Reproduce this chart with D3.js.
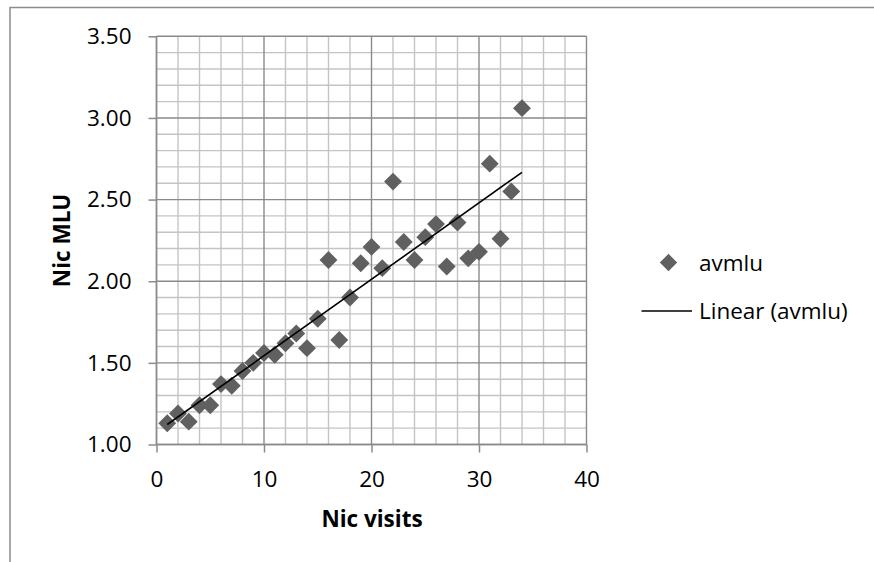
<!DOCTYPE html>
<html><head><meta charset="utf-8">
<script src="https://cdn.jsdelivr.net/npm/d3@7"></script>
<style>body{margin:0;background:#fff} svg{display:block}</style>
</head><body><svg id="c" width="874" height="562"></svg>
<script>
const visits = [1,2,3,4,5,6,7,8,9,10,11,12,13,14,15,16,17,18,19,20,21,22,23,24,25,26,27,28,29,30,31,32,33,34];
const avmlu  = [1.13,1.19,1.14,1.24,1.24,1.37,1.36,1.45,1.50,1.56,1.55,1.62,1.68,1.59,1.77,2.13,1.64,1.90,2.11,2.21,2.08,2.61,2.24,2.13,2.27,2.35,2.09,2.36,2.14,2.18,2.72,2.26,2.55,3.06];
const xTicks = [0,10,20,30,40];
const yTicks = [1.0,1.5,2.0,2.5,3.0,3.5];
const xMinor = d3.range(0, 40.001, 2);
const yMinor = d3.range(1.0, 3.5001, 0.1);
const seriesName = "avmlu";
const trendName = "Linear (avmlu)";
const xTitle = "Nic visits";
const yTitle = "Nic MLU";

const FONT = "'Open Sans', Lato, sans-serif";
const FS = "22.5px";
const svg = d3.select("#c");
const L = 156.5, R = 586.5, T = 36.3, B = 444.5;
const x = d3.scaleLinear().domain([0, 40]).range([L, R]);
const y = d3.scaleLinear().domain([1, 3.5]).range([B, T]);

// outer frame (cropped)
svg.append("path").attr("d", `M10,562 L10,7.5 L874,7.5`).attr("fill","none").attr("stroke","#8c8c8c").attr("stroke-width",1.5);

const g = svg.append("g");
// minor grid
g.selectAll(".vx").data(xMinor.filter(v => v % 10 !== 0)).join("line")
  .attr("x1", d => x(d)).attr("x2", d => x(d)).attr("y1", T).attr("y2", B)
  .attr("stroke", "#c4c4c4").attr("stroke-width", 1.4);
g.selectAll(".hy").data(yMinor.filter(v => Math.abs(v*2 - Math.round(v*2)) > 1e-6)).join("line")
  .attr("y1", d => y(d)).attr("y2", d => y(d)).attr("x1", L).attr("x2", R)
  .attr("stroke", "#c4c4c4").attr("stroke-width", 1.4);
// major grid
g.selectAll(".mx").data(xTicks).join("line")
  .attr("x1", d => x(d)).attr("x2", d => x(d)).attr("y1", T).attr("y2", B)
  .attr("stroke", "#8a8a8a").attr("stroke-width", 1.4);
g.selectAll(".my").data(yTicks).join("line")
  .attr("y1", d => y(d)).attr("y2", d => y(d)).attr("x1", L).attr("x2", R)
  .attr("stroke", "#8a8a8a").attr("stroke-width", 1.4);

// axes
const xa = svg.append("g").attr("transform", `translate(0,${B})`)
  .call(d3.axisBottom(x).tickValues(xTicks).tickSize(8).tickFormat(d3.format("d")));
const ya = svg.append("g").attr("transform", `translate(${L},0)`)
  .call(d3.axisLeft(y).tickValues(yTicks).tickSize(8).tickPadding(17).tickFormat(d3.format(".2f")));
[xa, ya].forEach(a => {
  a.select(".domain").remove();
  a.selectAll(".tick line").attr("stroke", "#8a8a8a").attr("stroke-width", 1.5);
  a.selectAll("text").attr("fill", "#000").style("font-family", FONT).style("font-size", FS);
});
xa.selectAll("text").attr("y", 42.5).attr("dy", 0);
svg.append("line").attr("x1", L).attr("x2", L).attr("y1", T).attr("y2", B).attr("stroke","#8a8a8a").attr("stroke-width",1.5);
svg.append("line").attr("x1", L).attr("x2", R).attr("y1", B).attr("y2", B).attr("stroke","#8a8a8a").attr("stroke-width",1.5);

// points
const diamond = d3.symbol(d3.symbolSquare, 160)();
const data = visits.map((v, i) => ({x: v, y: avmlu[i]}));
svg.append("g").selectAll("path").data(data).join("path")
  .attr("d", diamond)
  .attr("transform", d => `translate(${x(d.x)},${y(d.y)}) rotate(45)`)
  .attr("fill", "#606060");

// linear trendline (least squares)
const mx = d3.mean(visits), my = d3.mean(avmlu);
const slope = d3.sum(data, d => (d.x - mx) * (d.y - my)) / d3.sum(data, d => (d.x - mx) ** 2);
const icpt = my - slope * mx;
const ext = d3.extent(visits);
svg.append("path")
  .datum(ext.map(v => ({x: v, y: icpt + slope * v})))
  .attr("d", d3.line().x(d => x(d.x)).y(d => y(d.y)))
  .attr("fill", "none").attr("stroke", "#000").attr("stroke-width", 1.6);

// titles
svg.append("text").attr("x", 372).attr("y", 527).attr("text-anchor", "middle")
  .style("font-family", FONT).style("font-size", FS).style("font-weight", "bold").text(xTitle);
svg.append("text").attr("transform", `translate(70,${(T + B) / 2}) rotate(-90)`).attr("text-anchor", "middle")
  .style("font-family", FONT).style("font-size", FS).style("font-weight", "bold").text(yTitle);

// legend
const lg = svg.append("g");
lg.append("path").attr("d", d3.symbol(d3.symbolSquare, 150)()).attr("transform", "translate(668.5,262.5) rotate(45)").attr("fill", "#606060");
lg.append("text").attr("x", 699).attr("y", 270.5).style("font-family", FONT).style("font-size", FS).text(seriesName);
lg.append("line").attr("x1", 641.5).attr("x2", 692).attr("y1", 311).attr("y2", 311).attr("stroke", "#000").attr("stroke-width", 1.6);
lg.append("text").attr("x", 699).attr("y", 319).style("font-family", FONT).style("font-size", FS).text(trendName);
</script>
</body></html>
